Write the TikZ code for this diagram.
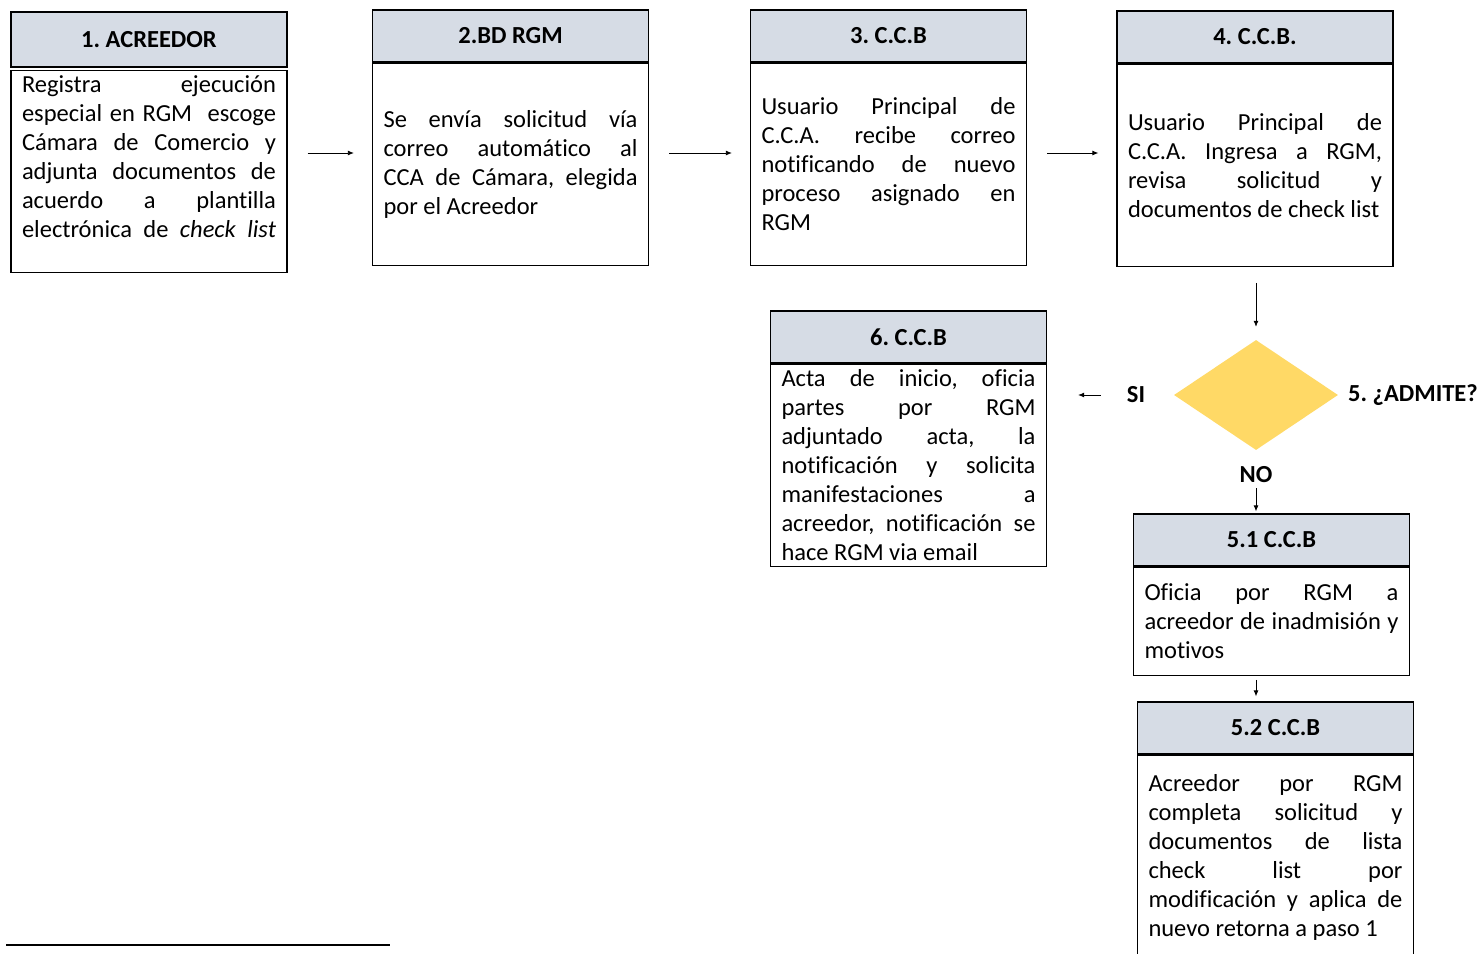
\documentclass[tikz,border=0pt]{standalone}
\usepackage{fontspec}
\setmainfont{Carlito}[Ligatures=NoCommon]
\usepackage{xcolor}
\usepackage{tikz}
\usetikzlibrary{positioning,shapes.geometric,arrows.meta}
\definecolor{headfill}{HTML}{D6DCE5}
\definecolor{decfill}{HTML}{FFD966}
\tolerance=9999
\hyphenpenalty=10000
\frenchspacing
\tikzset{
  head/.style={draw=black, fill=headfill, line width=1.3pt, minimum width=276pt, minimum height=52pt, inner sep=0pt, font=\bfseries\fontsize{24.5}{29}\selectfont},
  body/.style={draw=black, line width=1.3pt, text width=254pt, inner xsep=11pt, inner ysep=0pt, minimum height=202pt, align=justify, font=\fontsize{24.5}{29}\selectfont},
  arr/.style={-{Latex[length=6pt,width=5pt]}, line width=0.8pt},
  dec/.style={diamond, fill=decfill, minimum width=164pt, minimum height=110pt, inner sep=0pt},
  lab/.style={font=\bfseries\fontsize{24.5}{29}\selectfont, inner sep=0pt},
}
\begin{document}
\begin{tikzpicture}[x=1pt,y=-1pt]
  \useasboundingbox (0,0) rectangle (1483,953);
  % top row
  \node[head, minimum height=55pt] (h1) at (149,39.5) {1. ACREEDOR};
  \node[body, below=2pt of h1] (b1) {\parfillskip=0pt Registra ejecución\linebreak especial en RGM\ \ escoge\linebreak Cámara de Comercio y\linebreak adjunta documentos de\linebreak acuerdo a plantilla\linebreak electrónica de \textit{check list}\par\mbox{}};
  \node[head] (h2) at (510.5,36) {2.BD RGM};
  \node[body, below=0pt of h2] (b2) {Se envía solicitud vía\linebreak correo automático al\linebreak CCA de Cámara, elegida\linebreak por el Acreedor};
  \node[head] (h3) at (888.5,36) {3. C.C.B};
  \node[body, below=0pt of h3] (b3) {Usuario Principal de\linebreak C.C.A. recibe correo\linebreak notificando de nuevo\linebreak proceso asignado en\linebreak RGM};
  \node[head] (h4) at (1255,37) {4. C.C.B.};
  \node[body, below=0pt of h4] (b4) {Usuario Principal de\linebreak C.C.A. Ingresa a RGM,\linebreak revisa solicitud y\linebreak documentos de check list};
  \foreach \a/\b in {b1/b2,b2/b3,b3/b4}
    \draw[arr, shorten <=20pt, shorten >=18pt] (\a.east |- 0,153) -- (\b.west |- 0,153);
  % decision
  \node[dec] (d5) at (1256,395) {};
  \node[lab, anchor=west] (q5) at (1348,395) {5. ¿ADMITE?};
  \node[lab] (si) at (1136,395) {SI};
  \node[lab] (no) at (1256,475) {NO};
  \draw[arr, shorten <=16pt, shorten >=13pt] (d5 |- b4.south) -- (d5.north);
  \node[head] (h6) at (908.5,337) {6. C.C.B};
  \node[body, below=0pt of h6] (b6) {Acta de inicio, oficia\linebreak partes por RGM\linebreak adjuntado acta, la\linebreak notificación y solicita\linebreak manifestaciones a\linebreak acreedor, notificación se\linebreak hace RGM via email};
  \draw[arr, shorten <=26pt, shorten >=31pt] (si.west) -- (si.west -| b6.east);
  % NO branch
  \node[head] (h51) at (1271.5,540) {5.1 C.C.B};
  \node[body, below=0pt of h51, minimum height=108pt] (b51) {Oficia por RGM a\linebreak acreedor de inadmisión y\linebreak motivos};
  \node[head] (h52) at (1275.5,728) {5.2 C.C.B};
  \node[body, below=0pt of h52, minimum height=204pt] (b52) {Acreedor por RGM\linebreak completa solicitud y\linebreak documentos de lista\linebreak check list por\linebreak modificación y aplica de\linebreak nuevo retorna a paso 1};
  \draw[arr, shorten <=5pt, shorten >=2pt] (d5 |- no.south) -- (d5 |- h51.north);
  \draw[arr, shorten <=4pt, shorten >=5pt] (d5 |- b51.south) -- (d5 |- h52.north);
  % footnote rule
  \draw[line width=1.3pt] (6,945) -- (390,945);
\end{tikzpicture}
\end{document}
